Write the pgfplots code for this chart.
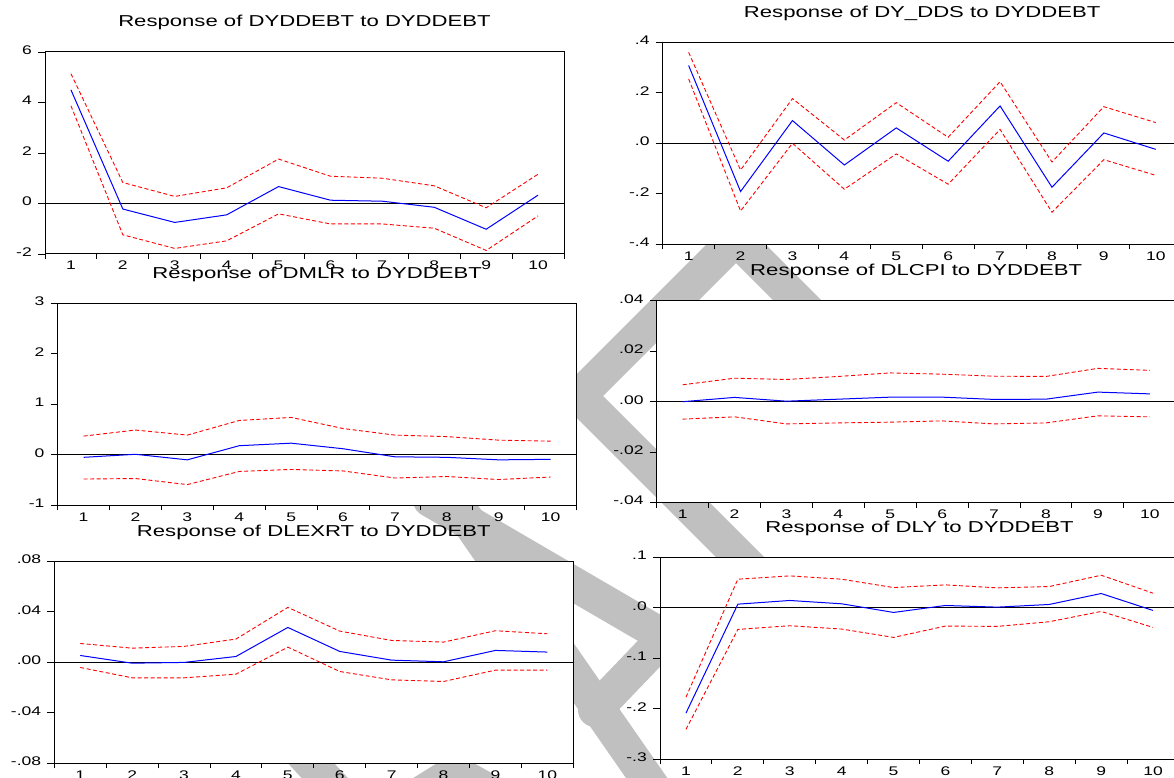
\documentclass[border=0pt]{standalone}
\usepackage{pgfplots}
\pgfplotsset{compat=1.18}
\usepackage{pgfplotstable}
\usepackage{fontspec}
\setmainfont[FakeStretch=1.4]{Liberation Sans}
\definecolor{wm}{RGB}{192,192,192}
\definecolor{irfblue}{RGB}{0,0,255}
\definecolor{irfred}{RGB}{255,0,0}

\pgfplotstableread{
h irf lo hi
1 4.50 3.87 5.14
2 -0.22 -1.24 0.83
3 -0.75 -1.78 0.28
4 -0.45 -1.48 0.62
5 0.67 -0.41 1.76
6 0.13 -0.81 1.08
7 0.09 -0.81 1.00
8 -0.15 -0.98 0.70
9 -1.02 -1.86 -0.17
10 0.33 -0.49 1.16
}\tA
\pgfplotstableread{
h irf lo hi
1 0.308 0.255 0.360
2 -0.191 -0.268 -0.106
3 0.090 0.000 0.177
4 -0.086 -0.182 0.013
5 0.061 -0.042 0.161
6 -0.071 -0.162 0.024
7 0.148 0.055 0.244
8 -0.174 -0.273 -0.074
9 0.041 -0.065 0.145
10 -0.024 -0.127 0.082
}\tB
\pgfplotstableread{
h irf lo hi
1 -0.05 -0.48 0.37
2 0.01 -0.47 0.49
3 -0.10 -0.59 0.39
4 0.18 -0.33 0.68
5 0.23 -0.29 0.74
6 0.12 -0.32 0.52
7 -0.04 -0.46 0.39
8 -0.05 -0.43 0.36
9 -0.10 -0.49 0.29
10 -0.09 -0.44 0.27
}\tC
\pgfplotstableread{
h irf lo hi
1 0.0000 -0.0069 0.0067
2 0.0017 -0.0060 0.0093
3 0.0002 -0.0088 0.0088
4 0.0010 -0.0084 0.0100
5 0.0018 -0.0081 0.0114
6 0.0018 -0.0076 0.0109
7 0.0009 -0.0088 0.0101
8 0.0010 -0.0084 0.0100
9 0.0038 -0.0056 0.0132
10 0.0031 -0.0060 0.0124
}\tD
\pgfplotstableread{
h irf lo hi
1 0.0054 -0.0041 0.0149
2 -0.0007 -0.0123 0.0112
3 -0.0001 -0.0123 0.0126
4 0.0046 -0.0094 0.0184
5 0.0276 0.0120 0.0435
6 0.0086 -0.0073 0.0247
7 0.0017 -0.0139 0.0173
8 0.0004 -0.0152 0.0160
9 0.0094 -0.0062 0.0250
10 0.0081 -0.0062 0.0226
}\tE
\pgfplotstableread{
h irf lo hi
1 -0.2086 -0.2408 -0.177
2 0.0072 -0.0428 0.0566
3 0.0145 -0.0355 0.0632
4 0.0079 -0.0421 0.0566
5 -0.0092 -0.0586 0.0401
6 0.0046 -0.0362 0.0454
7 0.0013 -0.0368 0.0395
8 0.0066 -0.0276 0.0421
9 0.0283 -0.0072 0.0645
10 -0.0053 -0.0388 0.0289
}\tF

\pgfplotsset{
  irf/.style={
    scale only axis, width=519pt, height=202pt,
    anchor=south west,
    xmin=0.5, xmax=10.5,
    scaled y ticks=false,
    axis line style={line width=1pt, black},
    axis background/.style={fill=white},
    tick align=outside, tick pos=left,
    xtick={1,...,10}, xticklabels={1,2,3,4,5,6,7,8,9,10},
    minor xtick={0.5,1.5,...,10.5},
    major x tick style={draw=none},
    minor x tick style={line width=0.9pt, black},
    y tick style={line width=0.9pt, black},
    minor tick length=5pt, major tick length=7pt,
    ticklabel style={font=\fontsize{12.5pt}{14pt}\selectfont},
    xticklabel style={inner sep=0pt, anchor=north},
    yticklabel style={inner sep=0pt, anchor=east, xshift=-6pt, yshift=2pt},
    title style={at={(0.5,1)}, anchor=base, yshift=19pt, inner sep=0pt,
      font=\fontsize{15.8pt}{18pt}\selectfont},
  },
  zl/.style={black, line width=0.8pt, forget plot},
  bl/.style={irfblue, line width=1pt},
  rd/.style={irfred, line width=0.9pt, dash pattern=on 4pt off 2.5pt},
}

\begin{document}
\begin{tikzpicture}
\useasboundingbox (0,0) rectangle (1174pt,778pt);
\clip (0,0) rectangle (1174pt,778pt);
% watermark
\begin{scope}[shift={(0pt,778pt)}, x=1pt, y=-1pt, wm, line width=34pt, line cap=round, line join=round]
  \draw (880,383) -- (736,239) -- (579,396) -- (775,592);
  \draw (430,500) -- (665,637) -- (595,710);
  \draw (450,495) -- (655,790);
  \draw (285,735) -- (345,800);
  \draw (410,800) -- (455,772) -- (505,800);
\end{scope}

% Panel 1
\begin{axis}[irf, at={(45pt,524pt)}, ymin=-2, ymax=6,
  ytick={-2,0,2,4,6}, yticklabels={-2,0,2,4,6},
  title={Response of DYDDEBT to DYDDEBT}]
  \addplot[zl] coordinates {(0.5,0) (10.5,0)};
  \addplot[rd] table[x=h,y=hi]{\tA};
  \addplot[rd] table[x=h,y=lo]{\tA};
  \addplot[bl] table[x=h,y=irf]{\tA};
\end{axis}

% Panel 2
\begin{axis}[irf, at={(662.7pt,533.7pt)}, ymin=-0.4, ymax=0.4,
  ytick={-0.4,-0.2,0,0.2,0.4}, yticklabels={-.4,-.2,.0,.2,.4},
  title={Response of DY\_DDS to DYDDEBT}]
  \addplot[zl] coordinates {(0.5,0) (10.5,0)};
  \addplot[rd] table[x=h,y=hi]{\tB};
  \addplot[rd] table[x=h,y=lo]{\tB};
  \addplot[bl] table[x=h,y=irf]{\tB};
\end{axis}

% Panel 3
\begin{axis}[irf, at={(57.6pt,272.7pt)}, ymin=-1, ymax=3,
  ytick={-1,0,1,2,3}, yticklabels={-1,0,1,2,3},
  title={Response of DMLR to DYDDEBT}]
  \addplot[zl] coordinates {(0.5,0) (10.5,0)};
  \addplot[rd] table[x=h,y=hi]{\tC};
  \addplot[rd] table[x=h,y=lo]{\tC};
  \addplot[bl] table[x=h,y=irf]{\tC};
\end{axis}

% Panel 4
\begin{axis}[irf, at={(656.7pt,275.3pt)}, ymin=-0.04, ymax=0.04,
  ytick={-0.04,-0.02,0,0.02,0.04}, yticklabels={-.04,-.02,.00,.02,.04},
  title={Response of DLCPI to DYDDEBT}]
  \addplot[zl] coordinates {(0.5,0) (10.5,0)};
  \addplot[rd] table[x=h,y=hi]{\tD};
  \addplot[rd] table[x=h,y=lo]{\tD};
  \addplot[bl] table[x=h,y=irf]{\tD};
\end{axis}

% Panel 5
\begin{axis}[irf, at={(54.3pt,14.7pt)}, ymin=-0.08, ymax=0.08,
  ytick={-0.08,-0.04,0,0.04,0.08}, yticklabels={-.08,-.04,.00,.04,.08},
  title={Response of DLEXRT to DYDDEBT}]
  \addplot[zl] coordinates {(0.5,0) (10.5,0)};
  \addplot[rd] table[x=h,y=hi]{\tE};
  \addplot[rd] table[x=h,y=lo]{\tE};
  \addplot[bl] table[x=h,y=irf]{\tE};
\end{axis}

% Panel 6
\begin{axis}[irf, at={(660pt,18.7pt)}, ymin=-0.3, ymax=0.1,
  ytick={-0.3,-0.2,-0.1,0,0.1}, yticklabels={-.3,-.2,-.1,.0,.1},
  title={Response of DLY to DYDDEBT}]
  \addplot[zl] coordinates {(0.5,0) (10.5,0)};
  \addplot[rd] table[x=h,y=hi]{\tF};
  \addplot[rd] table[x=h,y=lo]{\tF};
  \addplot[bl] table[x=h,y=irf]{\tF};
\end{axis}
\end{tikzpicture}
\end{document}
